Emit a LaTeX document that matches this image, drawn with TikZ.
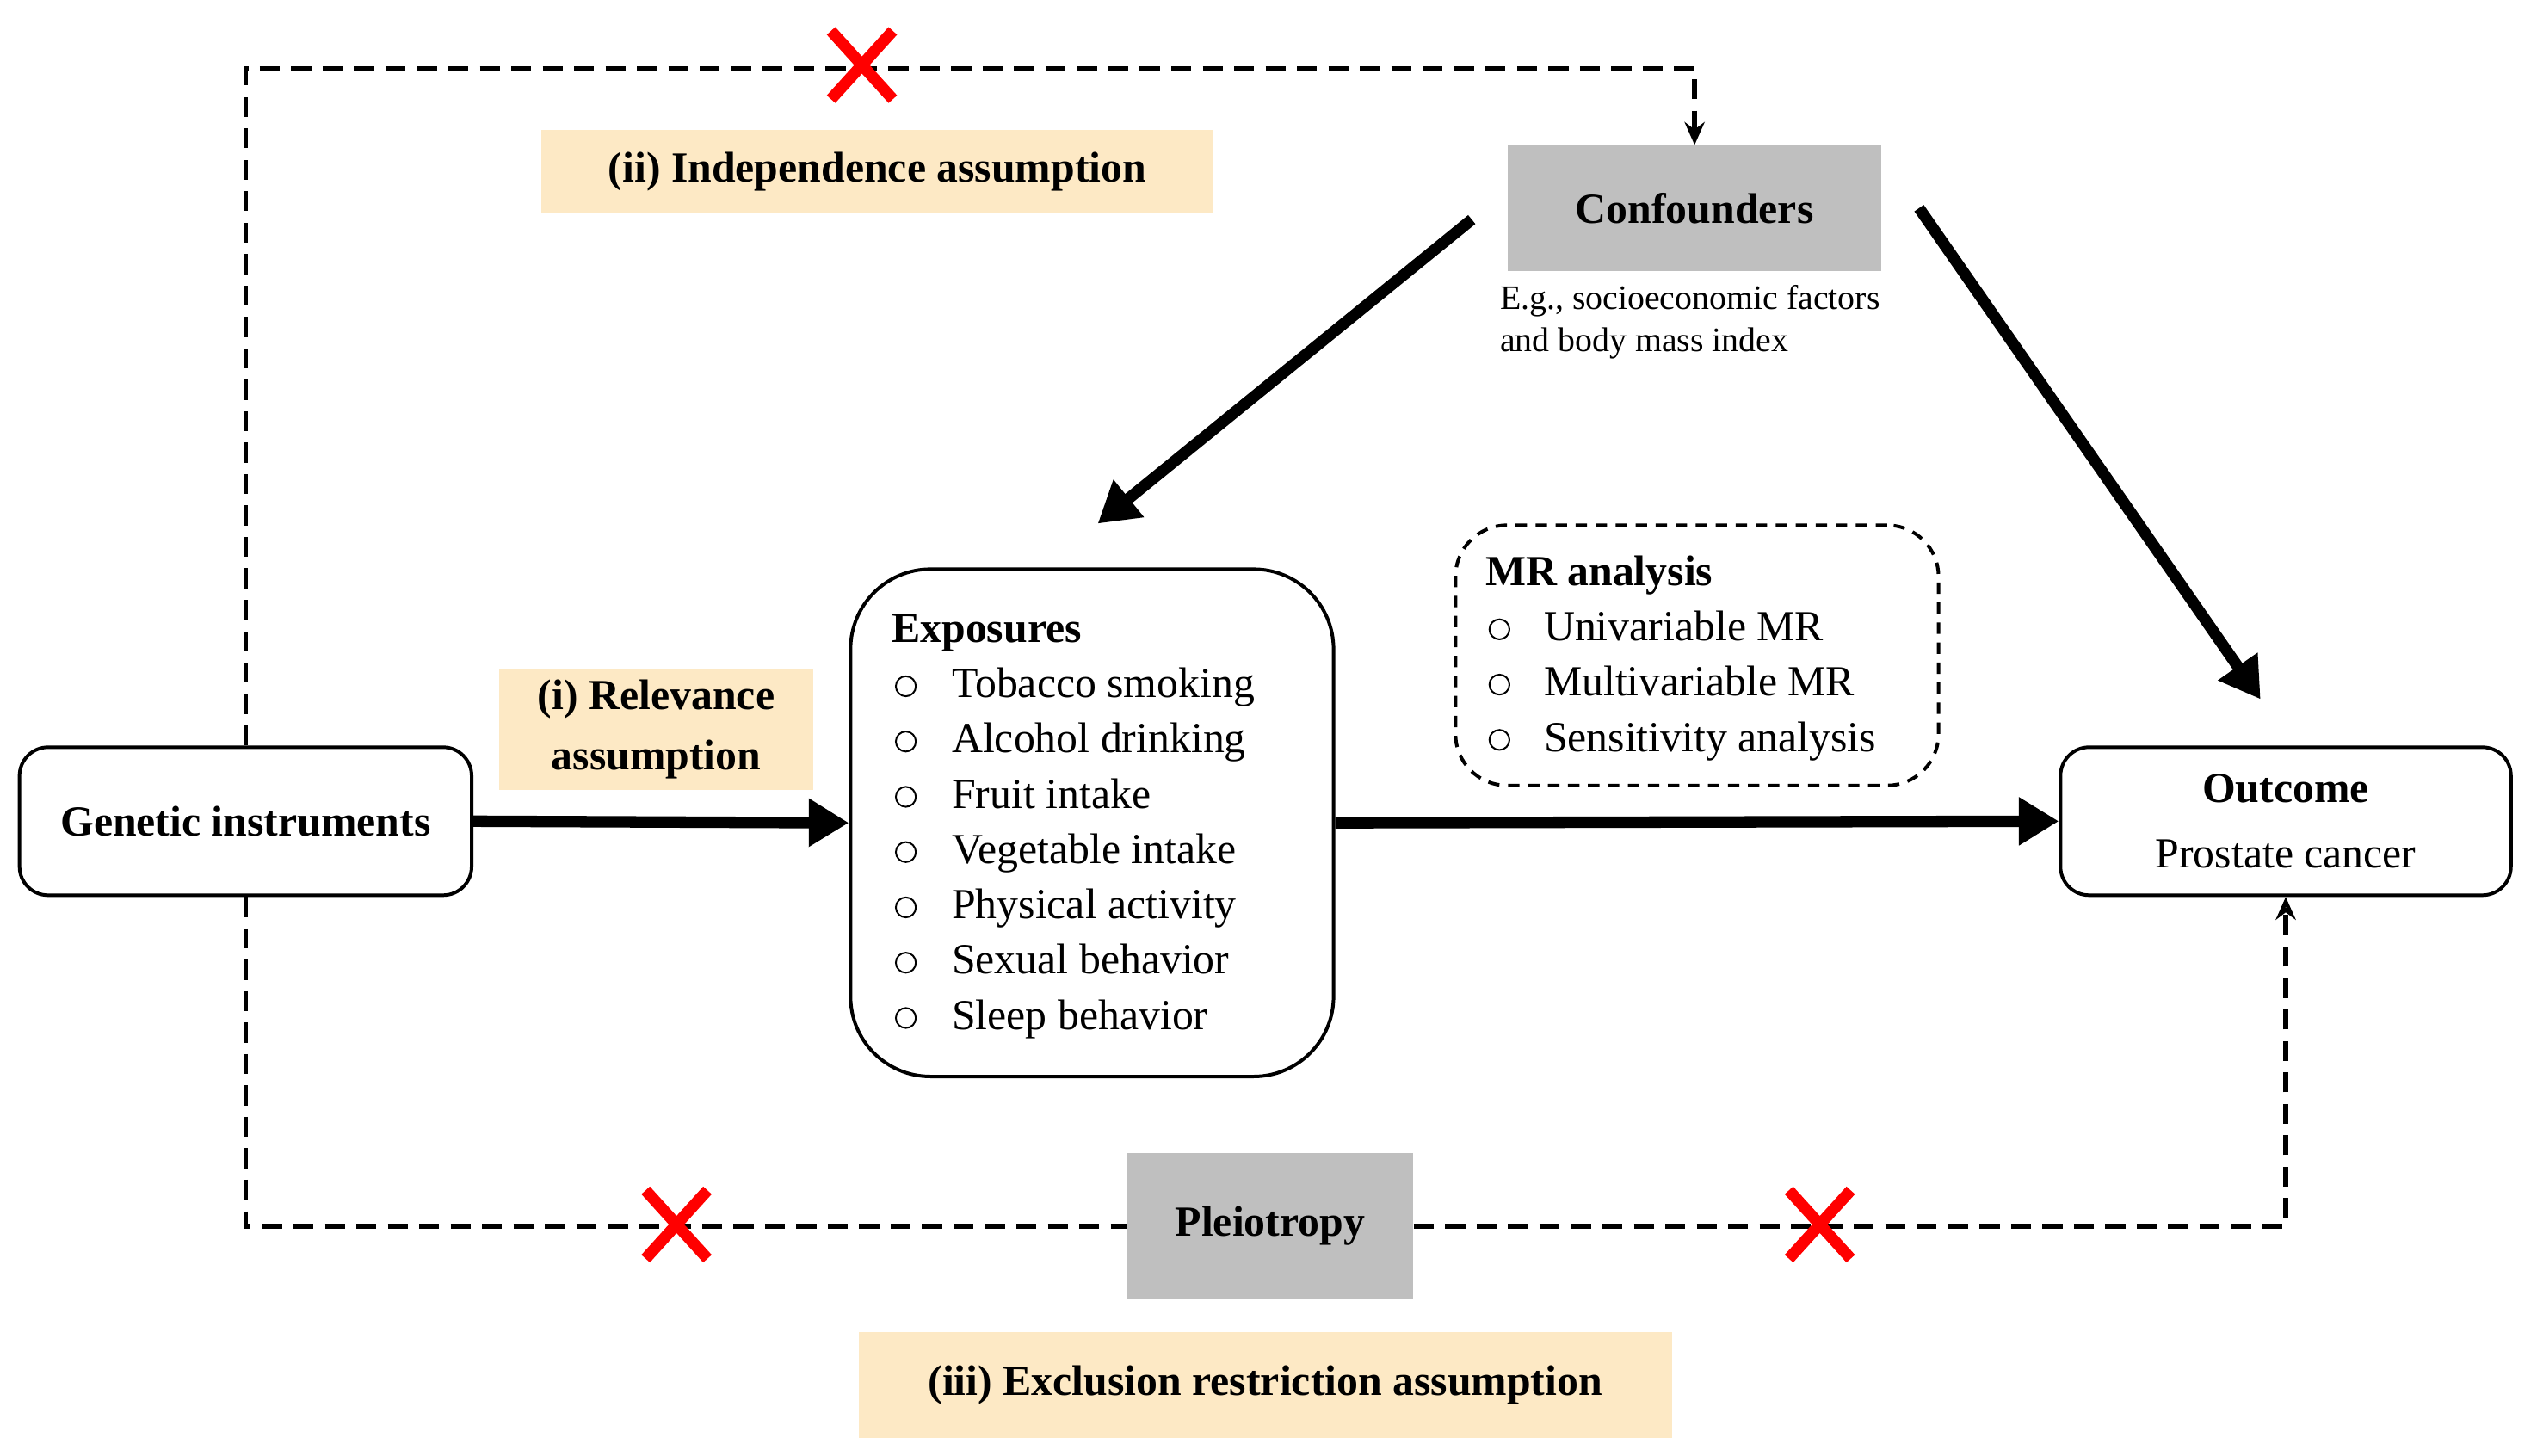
\documentclass[tikz,border=0pt]{standalone}
\usepackage{fontspec}
\setmainfont{Liberation Serif}
\usetikzlibrary{arrows.meta,calc}
\begin{document}
\begin{tikzpicture}[x=0.02cm,y=-0.02cm,
  box/.style={draw,line width=1.2pt,rounded corners=10pt,fill=white},
  gray/.style={fill=black!25,draw=none},
  yel/.style={fill=yellow!20!orange!20,draw=none},
  thick arrow/.style={line width=4pt,-{Triangle[length=14pt,width=16pt]}},
  dline/.style={line width=1.6pt,dash pattern=on 7pt off 4pt},
  txt/.style={font=\fontsize{15}{18}\selectfont,anchor=base west,inner sep=0},
  bul/.style={draw,circle,inner sep=0,minimum size=7pt,line width=0.6pt},
  redx/.style={red,line width=4pt}]
\useasboundingbox (0,0) rectangle (1560,895);
% boxes
\node[box,minimum width=278*0.02cm,minimum height=91*0.02cm] (gi) at (151,505) {\fontsize{15}{18}\selectfont\bfseries Genetic instruments};
\node[box,rounded corners=28pt,minimum width=297*0.02cm,minimum height=312*0.02cm] (ex) at (671.5,506) {};
\node[box,minimum width=277*0.02cm,minimum height=91*0.02cm,align=center,font=\fontsize{15}{18}\selectfont] (out) at (1405.5,505) {\textbf{Outcome}\\[5pt]Prostate cancer};
\node[gray,minimum width=230*0.02cm,minimum height=77*0.02cm] (conf) at (1042,128) {\fontsize{15}{18}\selectfont\bfseries Confounders};
\node[gray,minimum width=176*0.02cm,minimum height=90*0.02cm] (plei) at (781,754) {\fontsize{15}{18}\selectfont\bfseries Pleiotropy};
\node[draw,line width=1.2pt,dash pattern=on 4pt off 3pt,rounded corners=18pt,minimum width=297*0.02cm,minimum height=160*0.02cm] (mr) at (1043.5,403) {};
\node[yel,minimum width=413*0.02cm,minimum height=51*0.02cm] (l2) at (539.5,105.5) {\fontsize{15}{18}\selectfont\bfseries (ii) Independence assumption};
\node[yel,minimum width=193*0.02cm,minimum height=75*0.02cm,align=center,font=\fontsize{15}{18}\selectfont\bfseries] (l1) at (403.5,448.5) {(i) Relevance\\[3pt]assumption};
\node[yel,minimum width=500*0.02cm,minimum height=65*0.02cm] (l3) at (778,851.5) {\fontsize{15}{18}\selectfont\bfseries (iii) Exclusion restriction assumption};
% confounder note
\node[txt,font=\fontsize{12}{14}\selectfont] (n1) at (922,190) {E.g., socioeconomic factors};
\node[txt,font=\fontsize{12}{14}\selectfont] (n2) at (922,216) {and body mass index};
% exposures list
\node[txt,font=\fontsize{15}{18}\selectfont\bfseries] (et) at (548,395) {Exposures};
\foreach \t [count=\i] in {Tobacco smoking,Alcohol drinking,Fruit intake,Vegetable intake,Physical activity,Sexual behavior,Sleep behavior}{
  \node[bul] (eb\i) at (557,388+34*\i) {};
  \node[txt] (e\i) at (585,395+34*\i) {\t};
}
\node[txt,font=\fontsize{15}{18}\selectfont\bfseries] (mt) at (913,360) {MR analysis};
\foreach \t [count=\i] in {Univariable MR,Multivariable MR,Sensitivity analysis}{
  \node[bul] (mb\i) at (922,353+34*\i) {};
  \node[txt] (m\i) at (949,360+34*\i) {\t};
}
% arrows
\draw[thick arrow] (gi.east) -- (ex.west);
\draw[thick arrow] (ex.east) -- (out.west);
\coordinate (c1) at (905,135); \coordinate (c1e) at (675,322);
\coordinate (c2) at (1180,128); \coordinate (c2e) at (1390,430);
\draw[thick arrow] (c1) -- (c1e);
\draw[thick arrow] (c2) -- (c2e);
% dashed paths
\draw[dline,-{Stealth[length=8pt,width=7pt]}] (gi.north) -- (151,42) -- (1042,42) -- (conf.north);
\draw[dline] (gi.south) |- (plei.west);
\draw[dline,-{Stealth[length=8pt,width=7pt,open]}] (plei.east) -| (out.south);
% red X
\foreach \x/\y [count=\k] in {530/40,416/753,1119/753}{
  \coordinate (x\k) at (\x,\y);
  \draw[redx] ($(x\k)+(-19,-21)$) -- ($(x\k)+(19,21)$) ($(x\k)+(-19,21)$) -- ($(x\k)+(19,-21)$);
}
\end{tikzpicture}
\end{document}
